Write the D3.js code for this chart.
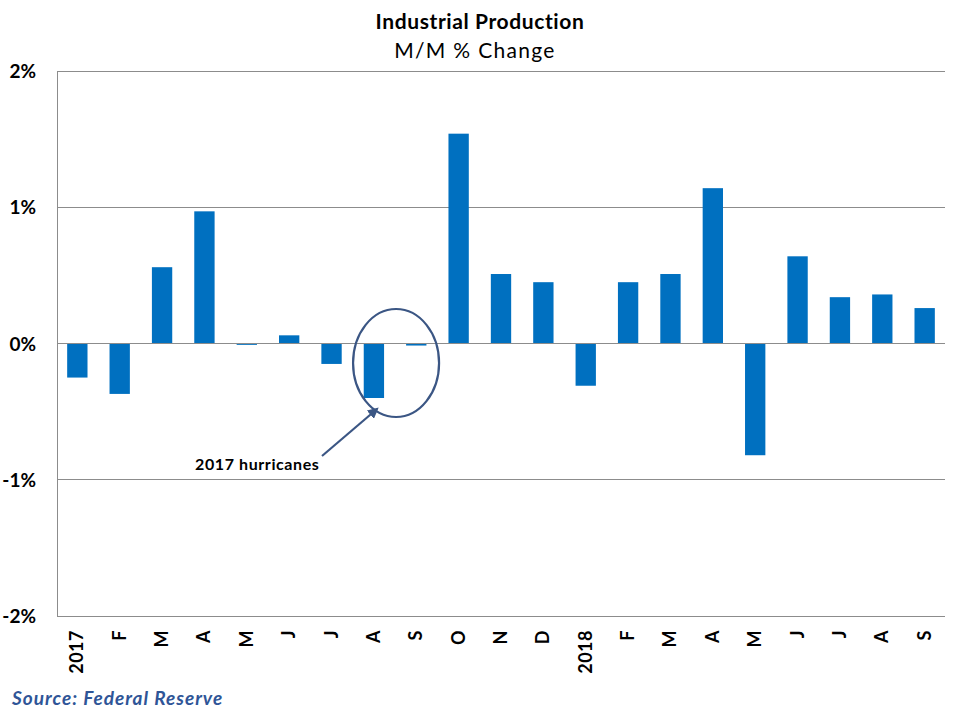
<!DOCTYPE html>
<html><head><meta charset="utf-8">
<script src="https://cdn.jsdelivr.net/npm/d3@7"></script>
<style>body{margin:0;background:#fff;} text{font-family:Lato,"Noto Sans",sans-serif;}</style>
</head><body>
<svg id="c" width="960" height="720"></svg>
<script>
const categories = ["2017","F","M","A","M","J","J","A","S","O","N","D","2018","F","M","A","M","J","J","A","S"];
const values = [-0.25,-0.37,0.56,0.97,-0.01,0.06,-0.15,-0.40,-0.015,1.54,0.51,0.45,-0.31,0.45,0.51,1.14,-0.82,0.64,0.34,0.36,0.26];
const yTicks = [-2,-1,0,1,2];
const tickLabels = ["-2%","-1%","0%","1%","2%"];

const svg = d3.select("#c");
const L = 57, R = 945, T = 71, B = 616;
const x = d3.scaleBand().domain(d3.range(categories.length)).range([L, R]).paddingInner(0.52).paddingOuter(0.24);
const y = d3.scaleLinear().domain([-2, 2]).range([B, T]);

// gridlines
svg.append("g").selectAll("line").data(yTicks).join("line")
  .attr("x1", L).attr("x2", R).attr("y1", d => y(d)).attr("y2", d => y(d))
  .attr("stroke", "#8c8c8c").attr("stroke-width", 1).attr("shape-rendering","crispEdges");
svg.append("line").attr("x1", L).attr("x2", L).attr("y1", T).attr("y2", B)
  .attr("stroke", "#8c8c8c").attr("shape-rendering","crispEdges");

// y labels
svg.append("g").selectAll("text").data(yTicks).join("text")
  .attr("x", 36).attr("y", (d) => y(d) + 7).attr("text-anchor", "end")
  .attr("font-size", 19).attr("font-weight", "bold").attr("fill", "#000")
  .text((d, i) => tickLabels[i]);

// bars
svg.append("g").selectAll("rect").data(values).join("rect")
  .attr("x", (d, i) => x(i)).attr("width", x.bandwidth())
  .attr("y", d => y(Math.max(0, d))).attr("height", d => Math.max(1, Math.abs(y(d) - y(0))))
  .attr("fill", "#0070C0");

// zero line on top
svg.append("line").attr("x1", L).attr("x2", R).attr("y1", y(0)).attr("y2", y(0))
  .attr("stroke", "#8c8c8c").attr("shape-rendering","crispEdges");

// x labels
svg.append("g").selectAll("text").data(categories).join("text")
  .attr("transform", (d, i) => `translate(${x(i) + x.bandwidth()/2 + 6},${630}) rotate(-90)`)
  .attr("text-anchor", "end").attr("font-size", 18).attr("font-weight", "bold").attr("fill", "#000")
  .attr("letter-spacing", 0.5)
  .text(d => d);

// title
svg.append("text").attr("x", 480).attr("y", 29).attr("text-anchor", "middle")
  .attr("font-size", 21).attr("font-weight", "bold").attr("letter-spacing", 0.6).attr("fill", "#000").text("Industrial Production");
svg.append("text").attr("x", 475).attr("y", 58).attr("text-anchor", "middle")
  .attr("font-size", 21).attr("letter-spacing", 1.3).attr("fill", "#000").text("M/M % Change");

// annotation
const ac = "#3B5684";
svg.append("ellipse").attr("cx", x(7) + x.bandwidth() + 12).attr("cy", 363).attr("rx", 43).attr("ry", 54)
  .attr("fill", "none").attr("stroke", ac).attr("stroke-width", 2.2);
const defs = svg.append("defs");
defs.append("marker").attr("id", "ah").attr("viewBox", "0 0 10 10").attr("refX", 8).attr("refY", 5)
  .attr("markerWidth", 5).attr("markerHeight", 5).attr("orient", "auto")
  .append("path").attr("d", "M0,0 L10,5 L0,10 z").attr("fill", ac);
svg.append("line").attr("x1", 322).attr("y1", 456).attr("x2", 377).attr("y2", 409)
  .attr("stroke", ac).attr("stroke-width", 2.2).attr("marker-end", "url(#ah)");
svg.append("text").attr("x", 195).attr("y", 470).attr("font-size", 16).attr("font-weight", "bold")
  .attr("letter-spacing", 0.6).attr("fill", "#000").text("2017 hurricanes");

// source
svg.append("text").attr("x", 12).attr("y", 705).attr("font-size", 19).attr("font-weight", "bold")
  .attr("font-style", "italic").attr("letter-spacing", 1).attr("fill", "#2F5597").text("Source: Federal Reserve");
</script>
</body></html>
